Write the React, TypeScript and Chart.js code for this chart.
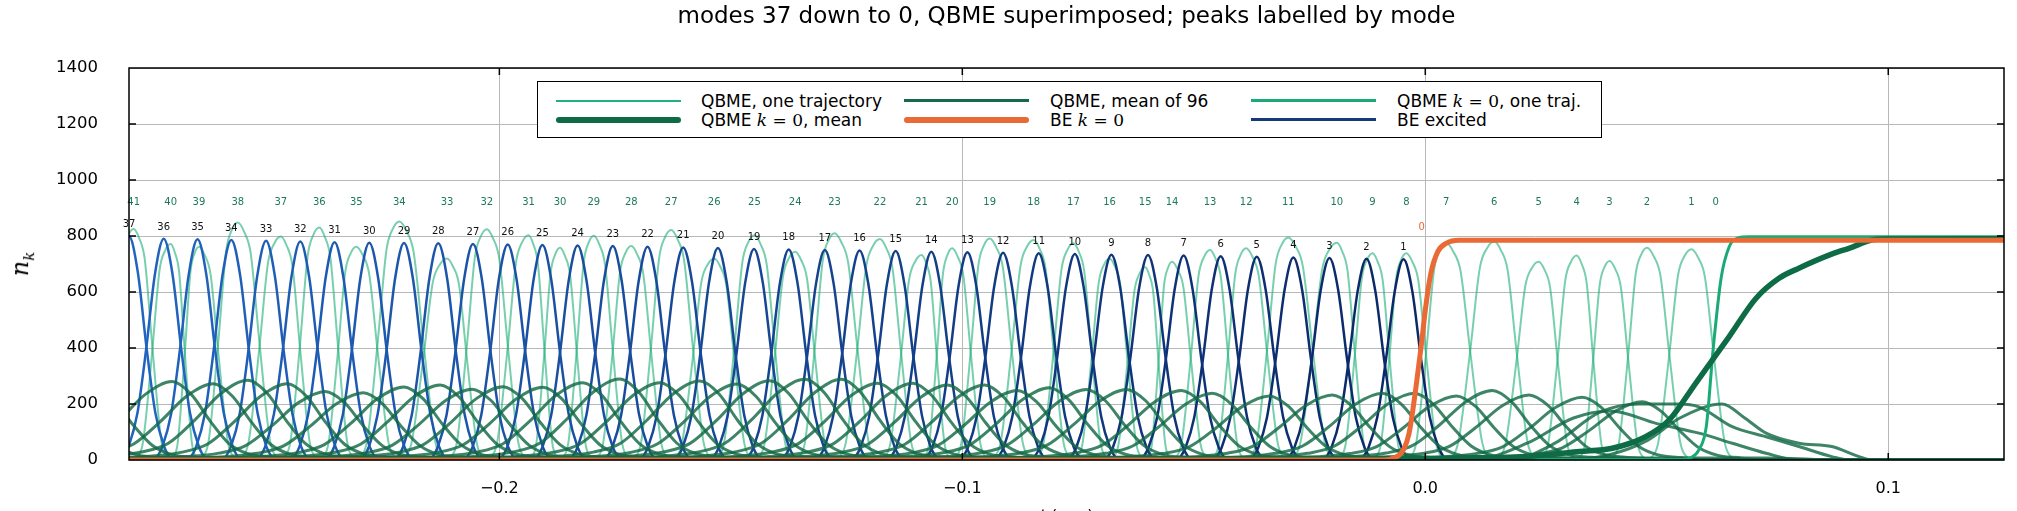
import { useEffect, useRef } from "react"
import { Chart, registerables, type ChartConfiguration, type Plugin } from "chart.js"

Chart.register(...registerables)

// axes
const xMin = -0.28
const xMax = 0.125
const xTickValues = [-0.2, -0.1, 0, 0.1]
const xTickLabels = ["−0.2", "−0.1", "0.0", "0.1"]
const yTickValues = [0, 200, 400, 600, 800, 1000, 1200, 1400]

const titleText = "modes 37 down to 0, QBME superimposed; peaks labelled by mode"
const legendLabels = [
  "QBME, one trajectory",
  "QBME, mean of 96",
  "QBME k = 0, one traj.",
  "QBME k = 0, mean",
  "BE k = 0",
  "BE excited",
]

// BE excited modes: peak time and peak height
const beModes = [37, 36, 35, 34, 33, 32, 31, 30, 29, 28, 27, 26, 25, 24, 23, 22, 21, 20, 19, 18, 17, 16, 15, 14, 13, 12, 11, 10, 9, 8, 7, 6, 5, 4, 3, 2, 1]
const bePeakT = [-0.28, -0.2725, -0.2652, -0.2579, -0.2504, -0.243, -0.2356, -0.2281, -0.2206, -0.2132, -0.2057, -0.1982, -0.1907, -0.1831, -0.1755, -0.168, -0.1603, -0.1528, -0.145, -0.1375, -0.1297, -0.1222, -0.1144, -0.1067, -0.0989, -0.0912, -0.0835, -0.0757, -0.0678, -0.0599, -0.0522, -0.0442, -0.0364, -0.0285, -0.0207, -0.0127, -0.0047]
const bePeakN = [799, 790, 788, 786, 783, 780, 778, 776, 775, 774, 771, 770, 768, 766, 764, 762, 759, 757, 754, 752, 750, 748, 746, 744, 742, 740, 738, 736, 733, 732, 730, 728, 726, 723, 721, 719, 717]
const beHalfWidth = 0.0038
const beShapeU = [-2.4, -2, -1.5, -1, -0.5, 0, 0.5, 1, 1.5, 2, 2.4]
const beShapeF = [0, 0.06, 0.21, 0.5, 0.84, 1, 0.84, 0.5, 0.21, 0.06, 0]
const beLabelLift = 42

// QBME one trajectory: peaks of modes 41 down to 1 (label of mode 0 sits on the k=0 rise)
const qModes = [41, 40, 39, 38, 37, 36, 35, 34, 33, 32, 31, 30, 29, 28, 27, 26, 25, 24, 23, 22, 21, 20, 19, 18, 17, 16, 15, 14, 13, 12, 11, 10, 9, 8, 7, 6, 5, 4, 3, 2, 1]
const qPeakT = [-0.279, -0.271, -0.2649, -0.2565, -0.2472, -0.2389, -0.2309, -0.2216, -0.2113, -0.2027, -0.1937, -0.1869, -0.1796, -0.1715, -0.1629, -0.1536, -0.1449, -0.1361, -0.1276, -0.1178, -0.1088, -0.1022, -0.0941, -0.0846, -0.076, -0.0682, -0.0605, -0.0547, -0.0465, -0.0387, -0.0296, -0.0191, -0.0114, -0.0041, 0.0045, 0.0149, 0.0245, 0.0327, 0.0398, 0.0479, 0.0575]
const qPeakN = [825, 771, 762, 848, 798, 830, 762, 852, 720, 824, 803, 758, 801, 764, 821, 720, 803, 744, 810, 789, 732, 756, 791, 786, 774, 720, 688, 708, 750, 756, 795, 776, 738, 738, 775, 780, 708, 730, 711, 758, 753]
const qShapeU = [-1.9, -1.5, -1, -0.6, -0.3, 0, 0.3, 0.6, 1, 1.5, 1.9]
const qShapeF = [0, 0.08, 0.5, 0.88, 0.97, 1, 0.96, 0.87, 0.5, 0.08, 0]
const qZeroLabelT = 0.0627
const qLabelN = 919

// QBME mean of 96: broad humps
const meanPeakT = [-0.2948, -0.2873, -0.2707, -0.2618, -0.2543, -0.2458, -0.2376, -0.2294, -0.2206, -0.2128, -0.2059, -0.1992, -0.1906, -0.182, -0.174, -0.1653, -0.1567, -0.1487, -0.1416, -0.134, -0.1261, -0.1183, -0.1107, -0.1032, -0.0952, -0.0881, -0.0812, -0.0732, -0.0645, -0.0527, -0.046, -0.0337, -0.0201, -0.0093, -0.0024, 0.0067, 0.0145, 0.0224, 0.0339, 0.0468]
const meanPeakN = [240, 250, 280, 272, 285, 272, 245, 240, 261, 268, 253, 262, 260, 276, 289, 276, 282, 271, 283, 288, 288, 274, 274, 268, 268, 248, 258, 252, 252, 248, 238, 229, 232, 238, 238, 229, 248, 232, 224, 208]
const meanShapeDt = [-0.052, -0.038, -0.03, -0.023, -0.0172, -0.0115, -0.0057, 0, 0.0041, 0.0082, 0.0123, 0.0164, 0.0213, 0.03, 0.042]
const meanShapeF = [0, 0.03, 0.05, 0.1, 0.21, 0.5, 0.84, 1, 0.84, 0.5, 0.21, 0.08, 0.04, 0.03, 0]
// low modes with long tails
const meanTailA: [number, number][] = [[0.03, 0], [0.04, 20], [0.048, 70], [0.055, 150], [0.0641, 200], [0.069, 150], [0.0736, 96], [0.0807, 60], [0.0878, 48], [0.0937, 12], [0.0965, 0]]
const meanTailB: [number, number][] = [[0.018, 0], [0.028, 60], [0.0376, 170], [0.0462, 200], [0.0548, 200], [0.0591, 190], [0.0663, 119], [0.0736, 83], [0.0807, 48], [0.0878, 12], [0.0915, 0]]
const meanTailC: [number, number][] = [[0.01, 0], [0.022, 60], [0.032, 150], [0.04, 175], [0.05, 130], [0.0591, 96], [0.0663, 60], [0.0736, 24], [0.0807, 0]]

// k = 0 curves
const beK0: [number, number][] = [[-0.28, 0], [-0.0099, 0], [-0.0056, 18], [-0.0035, 96], [-0.002, 262], [-0.0009, 405], [0.0001, 548], [0.0012, 667], [0.0027, 744], [0.0045, 774], [0.0073, 785], [0.125, 785]]
const beK0LabelT = -0.0008
const beK0LabelN = 830
const qK0Traj: [number, number][] = [[-0.28, 0], [0.0548, 2], [0.0575, 10], [0.0591, 36], [0.0607, 120], [0.0622, 400], [0.0639, 650], [0.0656, 760], [0.0674, 792], [0.07, 797], [0.125, 797]]
const qK0Mean: [number, number][] = [[-0.28, 4], [-0.1, 4], [0, 5], [0.01, 8], [0.021, 12], [0.0333, 30], [0.0404, 42], [0.0476, 83], [0.0527, 143], [0.0584, 274], [0.0656, 440], [0.0714, 577], [0.0764, 649], [0.0807, 685], [0.0879, 736], [0.0915, 756], [0.0966, 786], [0.0994, 789], [0.125, 790]]

const C = {
  traj: "rgba(30, 175, 120, 0.6)",
  mean: "rgba(20, 105, 70, 0.82)",
  k0traj: "#1aaa76",
  k0mean: "#0d6b45",
  beK0: "#ea6a35",
  beFrom: [33, 100, 192],
  beTo: [11, 40, 104],
  grid: "#b8b8b8",
  qLabel: "#1d7a56",
}

const legendStyles = [
  { color: "#22b07e", width: 2 },
  { color: "#16694a", width: 2.5 },
  { color: "#1aaa76", width: 3.5 },
  { color: "#0d6b45", width: 6 },
  { color: "#ea6a35", width: 6 },
  { color: "#143a78", width: 2.5 },
]

const pairs = (a: [number, number][]) => a.map(([x, y]) => ({ x, y }))

function beColor(i: number) {
  const f = i / (beModes.length - 1)
  const c = C.beFrom.map((v, k) => Math.round(v + (C.beTo[k] - v) * f))
  return `rgb(${c[0]}, ${c[1]}, ${c[2]})`
}

const line = (data: { x: number; y: number }[], color: string, width: number) => ({
  data,
  borderColor: color,
  borderWidth: width,
  pointRadius: 0,
  fill: false,
  cubicInterpolationMode: "monotone" as const,
})

function buildDatasets() {
  const top = [
    line(pairs(beK0), C.beK0, 5),
    line(pairs(qK0Mean), C.k0mean, 5.5),
    line(pairs(qK0Traj), C.k0traj, 3),
  ]
  const means = meanPeakT.map((t0, i) => {
    const pts = meanShapeDt.map((d, j) => ({ x: t0 + d, y: meanPeakN[i] * meanShapeF[j] }))
    if (pts[0].x > -0.3) pts.unshift({ x: -0.3, y: 0 })
    if (pts[pts.length - 1].x < 0.13) pts.push({ x: 0.13, y: 0 })
    return line(pts, C.mean, 3)
  })
  const tails = [meanTailA, meanTailB, meanTailC].map((a) => {
    const pts = pairs(a)
    pts.unshift({ x: -0.3, y: 0 })
    pts.push({ x: 0.13, y: 0 })
    return line(pts, C.mean, 3)
  })
  const be = bePeakT.map((t0, i) =>
    line(beShapeU.map((u, j) => ({ x: t0 + u * beHalfWidth, y: bePeakN[i] * beShapeF[j] })), beColor(i), 2.5),
  )
  const traj = qPeakT.map((t0, i) => {
    const gL = i > 0 ? (t0 - qPeakT[i - 1]) / 2 : (qPeakT[i + 1] - t0) / 2
    const gR = i < qPeakT.length - 1 ? (qPeakT[i + 1] - t0) / 2 : gL
    return line(qShapeU.map((u, j) => ({ x: t0 + u * (u < 0 ? gL : gR), y: qPeakN[i] * qShapeF[j] })), C.traj, 2)
  })
  // first dataset is drawn on top
  return [...top, ...means, ...tails, ...be, ...traj]
}

const decorPlugin: Plugin<"line"> = {
  id: "decor",
  afterDatasetsDraw(chart) {
    const { ctx } = chart
    const x = chart.scales.x
    const y = chart.scales.y
    ctx.save()
    ctx.font = "10px 'DejaVu Sans'"
    ctx.textAlign = "center"
    ctx.textBaseline = "middle"
    ctx.fillStyle = "#111111"
    beModes.forEach((m, i) => {
      ctx.fillText(String(m), x.getPixelForValue(bePeakT[i]), y.getPixelForValue(bePeakN[i] + beLabelLift))
    })
    ctx.fillStyle = C.qLabel
    qModes.forEach((m, i) => {
      ctx.fillText(String(m), x.getPixelForValue(qPeakT[i]), y.getPixelForValue(qLabelN))
    })
    ctx.fillText("0", x.getPixelForValue(qZeroLabelT), y.getPixelForValue(qLabelN))
    ctx.fillStyle = C.beK0
    ctx.fillText("0", x.getPixelForValue(beK0LabelT), y.getPixelForValue(beK0LabelN))
    ctx.restore()
  },
  afterDraw(chart) {
    const { ctx, chartArea: a } = chart
    const x = chart.scales.x
    const y = chart.scales.y
    ctx.save()
    ctx.strokeStyle = "#000"
    ctx.lineWidth = 1.5
    ctx.strokeRect(a.left, a.top, a.right - a.left, a.bottom - a.top)
    ctx.beginPath()
    for (const v of yTickValues.slice(1, -1)) {
      const py = y.getPixelForValue(v)
      ctx.moveTo(a.left, py)
      ctx.lineTo(a.left + 7, py)
      ctx.moveTo(a.right, py)
      ctx.lineTo(a.right - 7, py)
    }
    for (const v of xTickValues) {
      const px = x.getPixelForValue(v)
      ctx.moveTo(px, a.bottom)
      ctx.lineTo(px, a.bottom - 7)
      ctx.moveTo(px, a.top)
      ctx.lineTo(px, a.top + 7)
    }
    ctx.stroke()
    ctx.restore()
  },
}

function MathLabel({ text }: { text: string }) {
  const parts = text.split("k = 0")
  if (parts.length === 1) return <>{text}</>
  return (
    <>
      {parts[0]}
      <span style={{ fontFamily: "'DejaVu Serif'" }}>
        <i>k</i> = 0
      </span>
      {parts[1]}
    </>
  )
}

export default function App() {
  const canvasRef = useRef<HTMLCanvasElement>(null)
  const chartRef = useRef<Chart | null>(null)

  useEffect(() => {
    document.body.style.margin = "0"
    if (!canvasRef.current) return
    if (chartRef.current) chartRef.current.destroy()

    const config: ChartConfiguration<"line"> = {
      type: "line",
      data: { datasets: buildDatasets() as any },
      options: {
        responsive: false,
        animation: false,
        events: [],
        layout: { padding: { left: 0, right: 13, top: 68, bottom: 0 } },
        plugins: {
          legend: { display: false },
          tooltip: { enabled: false },
          title: { display: false },
        },
        scales: {
          x: {
            type: "linear",
            min: xMin,
            max: xMax,
            afterBuildTicks: (s) => {
              s.ticks = xTickValues.map((value) => ({ value }))
            },
            afterFit: (s) => {
              s.height = 51
            },
            ticks: {
              callback: (_v, i) => xTickLabels[i],
              color: "#000",
              font: { family: "'DejaVu Sans'", size: 16 },
              padding: 19,
              maxRotation: 0,
              autoSkip: false,
            },
            grid: { color: C.grid, lineWidth: 1, drawTicks: false },
            border: { display: false },
          },
          y: {
            type: "linear",
            min: 0,
            max: 1400,
            afterBuildTicks: (s) => {
              s.ticks = yTickValues.map((value) => ({ value }))
            },
            afterFit: (s) => {
              s.width = 129
            },
            ticks: {
              callback: (v) => String(v),
              color: "#000",
              font: { family: "'DejaVu Sans'", size: 16.5 },
              padding: 31,
            },
            grid: { color: C.grid, lineWidth: 1, drawTicks: false },
            border: { display: false },
          },
        },
      },
      plugins: [decorPlugin],
    }

    chartRef.current = new Chart(canvasRef.current, config)
    return () => {
      if (chartRef.current) {
        chartRef.current.destroy()
        chartRef.current = null
      }
    }
  }, [])

  const colX = [556, 904, 1251]
  const textX = [701, 1050, 1397]
  const rowY = [100.5, 119.5]

  return (
    <div style={{ position: "relative", width: 2017, height: 511, overflow: "hidden", background: "#fff", fontFamily: "'DejaVu Sans'" }}>
      <canvas ref={canvasRef} width={2017} height={511} style={{ display: "block" }} />
      <div style={{ position: "absolute", left: 129, width: 1875, top: 4, textAlign: "center", fontSize: 23, lineHeight: "23px", color: "#000", whiteSpace: "nowrap" }}>
        {titleText}
      </div>
      <div
        style={{
          position: "absolute",
          left: 22,
          top: 264,
          transform: "translate(-50%, -50%) rotate(-90deg)",
          fontFamily: "'DejaVu Serif'",
          fontStyle: "italic",
          fontSize: 24,
          whiteSpace: "nowrap",
        }}
      >
        n<sub style={{ fontSize: 15 }}>k</sub>
      </div>
      <div style={{ position: "absolute", left: 129, width: 1875, top: 508, textAlign: "center", fontSize: 16, lineHeight: "16px" }}>
        <i style={{ fontFamily: "'DejaVu Serif'" }}>t</i> (a.u.)
      </div>
      <div style={{ position: "absolute", left: 537, top: 81, width: 1065, height: 57, border: "1.5px solid #000", background: "#fff", boxSizing: "border-box" }} />
      {legendLabels.map((label, i) => {
        const col = i % 3
        const row = Math.floor(i / 3)
        const st = legendStyles[i]
        return (
          <div key={label}>
            <div
              style={{
                position: "absolute",
                left: colX[col],
                width: 125,
                top: rowY[row] - st.width / 2,
                height: st.width,
                background: st.color,
                borderRadius: st.width > 4 ? st.width / 2 : 0,
              }}
            />
            <div style={{ position: "absolute", left: textX[col], top: rowY[row] - 10, lineHeight: "20px", fontSize: 17, whiteSpace: "nowrap" }}>
              <MathLabel text={label} />
            </div>
          </div>
        )
      })}
    </div>
  )
}
